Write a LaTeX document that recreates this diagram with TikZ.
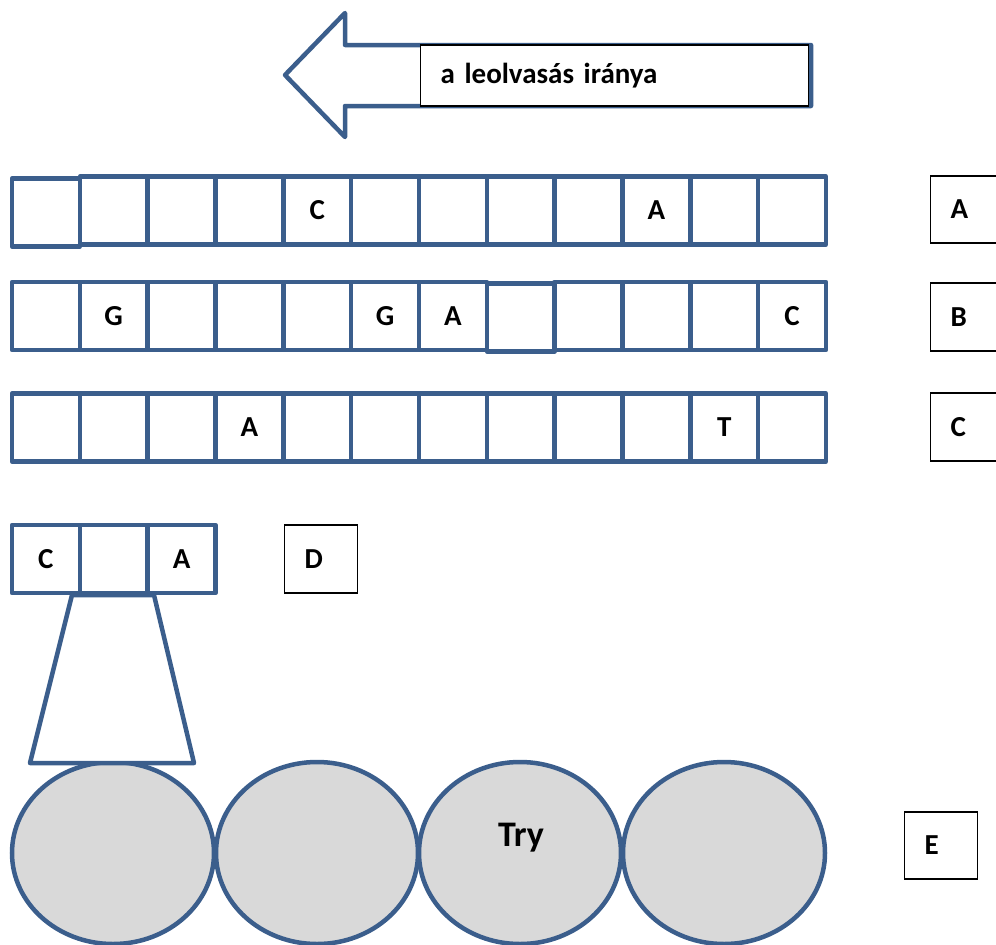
\documentclass[tikz,border=0pt]{standalone}
\usepackage{fontspec}
\setmainfont{Carlito}
\usetikzlibrary{shapes.geometric}
\definecolor{cellblue}{HTML}{3B5E8C}
\definecolor{bubblegray}{HTML}{D9D9D9}
\begin{document}
\begin{tikzpicture}[x=1pt,y=-1pt,
  letters/.style={font=\bfseries\fontsize{29}{34}\selectfont},
  cell/.style={letters, draw=cellblue, line width=4.5pt, line join=round,
    minimum width=67.8pt, minimum height=68pt, inner sep=0pt},
  tag/.style={letters, draw=black, line width=1.1pt, fill=white,
    inner xsep=20pt, inner ysep=0pt, align=left},
  bubble/.style={ellipse, draw=cellblue, fill=bubblegray, line width=4.5pt,
    minimum width=202pt, minimum height=182pt, inner sep=0pt},
  outline/.style={draw=cellblue, line width=4.5pt, line join=round, fill=white}]
\useasboundingbox (0,0) rectangle (996,945);

% reading-direction arrow with its caption box
\draw[outline] (811,45) -- (345,45) -- (345,13) -- (285,75) -- (345,137)
  -- (345,106) -- (811,106) -- cycle;
\node[tag, text width=348pt, minimum height=61pt, anchor=west] (dir) at (420,75.5)
  {a leolvasás iránya};

% strand A (its first cell sits a little lower)
\foreach [count=\i from 1] \t in {{},{},{},C,{},{},{},{},A,{},{}}
  \node[cell] (a\i) at (45.9+67.83*\i,210.5) {\t};
\node[cell] (a0) at (45.9,212.5) {};

% strand B (its eighth cell sits a little lower)
\foreach \i/\t in {0/{},1/G,2/{},3/{},4/{},5/G,6/A,8/{},9/{},10/{},11/C}
  \node[cell] (b\i) at (45.9+67.83*\i,316) {\t};
\node[cell] (b7) at (45.9+67.83*7,317.5) {};

% strand C
\foreach [count=\i from 0] \t in {{},{},{},A,{},{},{},{},{},{},T,{}}
  \node[cell] (c\i) at (45.9+67.83*\i,427.5) {\t};

% row labels
\node[tag, text width=30pt, minimum height=67pt, anchor=west] (la) at (930,209.5) {A};
\node[tag, text width=30pt, minimum height=68pt, anchor=west] (lb) at (930,317) {B};
\node[tag, text width=30pt, minimum height=68pt, anchor=west] (lc) at (930,427) {C};

% ribosome body
\node[bubble] (e1) at (113,853) {};
\node[bubble] (e2) at (317,853) {};
\node[bubble] (e3) at (520,853) {};
\node[bubble] (e4) at (724,853) {};
\node[font=\bfseries\fontsize{36}{40}\selectfont, inner sep=0pt] (aa) at (521,838) {Try};
\node[tag, text width=33pt, minimum height=67pt, anchor=west] (le) at (904,845.5) {E};

% anticodon stem joining the triplet to the first bead
\draw[outline] (72,595) -- (154,595) -- (194,763) -- (30,763) -- cycle;

% anticodon triplet
\foreach [count=\i from 0] \t in {C,{},A}
  \node[cell] (d\i) at (45.9+67.83*\i,559) {\t};
\node[tag, text width=33pt, minimum height=68pt, anchor=west] (ld) at (284,559) {D};
\end{tikzpicture}
\end{document}
